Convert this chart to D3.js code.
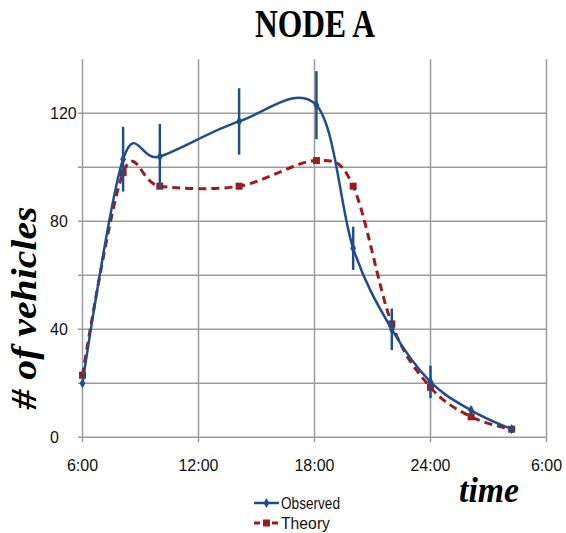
<!DOCTYPE html>
<html><head><meta charset="utf-8">
<script src="https://cdn.jsdelivr.net/npm/d3@7"></script>
<style>body{margin:0;background:#fff;} svg{display:block;}</style>
</head><body><svg id="c" width="566" height="533"></svg>
<script>
// hours after 6:00
const hours    = [0, 2.1, 4, 8.1, 12.1, 14, 16, 18, 20.1, 22.2];
const observed = [20, 103, 104, 117, 123, 70, 40, 20.5, 10, 3];
const obsError = [0, 12, 12, 12.3, 12.6, 8, 7.7, 6, 1.5, 0];
const theory   = [23, 98, 93, 93, 102.5, 93, 42, 18.5, 7.6, 3];
const xTickValues = [0, 6, 12, 18, 24];
const xTickLabels = ["6:00", "12:00", "18:00", "24:00", "6:00"];
const yTickLabels = [0, 40, 80, 120];
const yGrid = [0, 20, 40, 60, 80, 100, 120];

const svg = d3.select("#c");
const x = d3.scaleLinear().domain([0, 24]).range([82.5, 546.5]);
const y = d3.scaleLinear().domain([0, 140]).range([437.3, 59.3]);
const blue = "#1f4e8f", red = "#9c1c1c", grid = "#9c9c9c";

// grid
svg.append("g").selectAll("line").data(yGrid).join("line")
  .attr("x1", x(0) - 4.5).attr("x2", x(24)).attr("y1", d => y(d)).attr("y2", d => y(d))
  .attr("stroke", grid).attr("stroke-width", 1.5);
svg.append("g").selectAll("line").data(xTickValues).join("line")
  .attr("x1", d => x(d)).attr("x2", d => x(d)).attr("y1", y(140)).attr("y2", y(0) + 5)
  .attr("stroke", grid).attr("stroke-width", 1.5);

// tick labels
svg.append("g").selectAll("text").data(xTickValues).join("text")
  .attr("x", d => x(d)).attr("y", 471).attr("text-anchor", "middle")
  .attr("font-family", "Liberation Sans, Arial, sans-serif").attr("font-size", 16)
  .attr("fill", "#111").text((d, i) => xTickLabels[i]);
svg.append("g").selectAll("text").data(yTickLabels).join("text")
  .attr("x", 50).attr("y", d => y(d) + 6).attr("text-anchor", "start")
  .attr("font-family", "Liberation Sans, Arial, sans-serif").attr("font-size", 16)
  .attr("fill", "#111").text(d => d);

// curves
const line = d3.line().x(d => x(d[0])).y(d => y(d[1])).curve(d3.curveCardinal.tension(0));
const theoryPts = hours.map((h, i) => [h, theory[i]]);
const obsPts = hours.map((h, i) => [h, observed[i]]);

svg.append("path").attr("d", line(theoryPts)).attr("fill", "none")
  .attr("stroke", red).attr("stroke-width", 3).attr("stroke-dasharray", "8,5");
svg.append("g").selectAll("rect").data(theoryPts).join("rect")
  .attr("x", d => x(d[0]) - 3.5).attr("y", d => y(d[1]) - 3.5)
  .attr("width", 7).attr("height", 7).attr("fill", red);

svg.append("path").attr("d", line(obsPts)).attr("fill", "none")
  .attr("stroke", blue).attr("stroke-width", 2.5);
// error bars
svg.append("g").selectAll("line").data(hours.map((h, i) => i).filter(i => obsError[i] > 0)).join("line")
  .attr("x1", i => x(hours[i])).attr("x2", i => x(hours[i]))
  .attr("y1", i => y(observed[i] + obsError[i])).attr("y2", i => y(observed[i] - obsError[i]))
  .attr("stroke", blue).attr("stroke-width", 2.5);
const diamond = d3.symbol().type(d3.symbolDiamond).size(30);
svg.append("g").selectAll("path").data(obsPts).join("path")
  .attr("d", diamond).attr("transform", d => `translate(${x(d[0])},${y(d[1])})`).attr("fill", blue);

// title
svg.append("text").attr("x", 315).attr("y", 37).attr("text-anchor", "middle")
  .attr("font-family", "Liberation Serif, Times New Roman, serif").attr("font-weight", "bold")
  .attr("font-size", 39).attr("textLength", 120).attr("lengthAdjust", "spacingAndGlyphs")
  .attr("fill", "#000").text("NODE A");

// y label
svg.append("text").attr("transform", "translate(36,308) rotate(-90)").attr("text-anchor", "middle")
  .attr("font-family", "Liberation Serif, Times New Roman, serif").attr("font-weight", "bold")
  .attr("font-style", "italic").attr("font-size", 36).attr("textLength", 203)
  .attr("lengthAdjust", "spacingAndGlyphs").attr("fill", "#000").text("# of vehicles");

// x label
svg.append("text").attr("x", 459).attr("y", 502)
  .attr("font-family", "Liberation Serif, Times New Roman, serif").attr("font-weight", "bold")
  .attr("font-style", "italic").attr("font-size", 35).attr("textLength", 60)
  .attr("lengthAdjust", "spacingAndGlyphs").attr("fill", "#000").text("time");

// legend
const lg = svg.append("g");
lg.append("line").attr("x1", 254).attr("x2", 279).attr("y1", 503).attr("y2", 503)
  .attr("stroke", blue).attr("stroke-width", 2.5);
lg.append("path").attr("d", diamond).attr("transform", "translate(266.5,503)").attr("fill", blue);
lg.append("text").attr("x", 281).attr("y", 509).attr("font-family", "Liberation Sans, Arial, sans-serif")
  .attr("font-size", 17).attr("textLength", 59).attr("lengthAdjust", "spacingAndGlyphs")
  .attr("fill", "#111").text("Observed");
lg.append("line").attr("x1", 254).attr("x2", 279).attr("y1", 523).attr("y2", 523)
  .attr("stroke", red).attr("stroke-width", 3).attr("stroke-dasharray", "6,3");
lg.append("rect").attr("x", 263).attr("y", 519.5).attr("width", 7).attr("height", 7).attr("fill", red);
lg.append("text").attr("x", 281).attr("y", 529).attr("font-family", "Liberation Sans, Arial, sans-serif")
  .attr("font-size", 17).attr("textLength", 49).attr("lengthAdjust", "spacingAndGlyphs")
  .attr("fill", "#111").text("Theory");
</script></body></html>
